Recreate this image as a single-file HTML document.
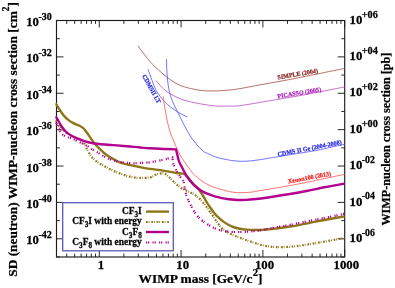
<!DOCTYPE html>
<html><head><meta charset="utf-8"><title>plot</title>
<style>
html,body{margin:0;padding:0;background:#fff;}
body{width:395px;height:288px;overflow:hidden;font-family:"Liberation Serif",serif;}
svg{display:block;will-change:transform;}
text{font-family:"Liberation Serif",serif;font-weight:bold;}
</style></head><body>
<svg width="395" height="288" viewBox="0 0 395 288">
<rect width="395" height="288" fill="#fff"/>
<defs><clipPath id="c"><rect x="55.20" y="20.50" width="289.70" height="236.50"/></clipPath></defs>
<path d="M56.50,257.00 v-3.40 M56.50,20.50 v3.40 M66.72,257.00 v-3.40 M66.72,20.50 v3.40 M74.65,257.00 v-3.40 M74.65,20.50 v3.40 M81.13,257.00 v-3.40 M81.13,20.50 v3.40 M86.60,257.00 v-3.40 M86.60,20.50 v3.40 M91.35,257.00 v-3.40 M91.35,20.50 v3.40 M95.53,257.00 v-3.40 M95.53,20.50 v3.40 M99.28,257.00 v-7.00 M99.28,20.50 v7.00 M123.90,257.00 v-3.40 M123.90,20.50 v3.40 M138.31,257.00 v-3.40 M138.31,20.50 v3.40 M148.53,257.00 v-3.40 M148.53,20.50 v3.40 M156.46,257.00 v-3.40 M156.46,20.50 v3.40 M162.93,257.00 v-3.40 M162.93,20.50 v3.40 M168.41,257.00 v-3.40 M168.41,20.50 v3.40 M173.16,257.00 v-3.40 M173.16,20.50 v3.40 M177.34,257.00 v-3.40 M177.34,20.50 v3.40 M181.08,257.00 v-7.00 M181.08,20.50 v7.00 M205.71,257.00 v-3.40 M205.71,20.50 v3.40 M220.12,257.00 v-3.40 M220.12,20.50 v3.40 M230.34,257.00 v-3.40 M230.34,20.50 v3.40 M238.27,257.00 v-3.40 M238.27,20.50 v3.40 M244.74,257.00 v-3.40 M244.74,20.50 v3.40 M250.22,257.00 v-3.40 M250.22,20.50 v3.40 M254.96,257.00 v-3.40 M254.96,20.50 v3.40 M259.15,257.00 v-3.40 M259.15,20.50 v3.40 M262.89,257.00 v-7.00 M262.89,20.50 v7.00 M287.52,257.00 v-3.40 M287.52,20.50 v3.40 M301.92,257.00 v-3.40 M301.92,20.50 v3.40 M312.15,257.00 v-3.40 M312.15,20.50 v3.40 M320.07,257.00 v-3.40 M320.07,20.50 v3.40 M326.55,257.00 v-3.40 M326.55,20.50 v3.40 M332.03,257.00 v-3.40 M332.03,20.50 v3.40 M336.77,257.00 v-3.40 M336.77,20.50 v3.40 M340.96,257.00 v-3.40 M340.96,20.50 v3.40 M344.70,257.00 v-7.00 M344.70,20.50 v7.00 M56.50,257.00 h3.40 M344.70,257.00 h-3.40 M56.50,238.81 h7.00 M344.70,238.81 h-7.00 M56.50,220.62 h3.40 M344.70,220.62 h-3.40 M56.50,202.42 h7.00 M344.70,202.42 h-7.00 M56.50,184.23 h3.40 M344.70,184.23 h-3.40 M56.50,166.04 h7.00 M344.70,166.04 h-7.00 M56.50,147.85 h3.40 M344.70,147.85 h-3.40 M56.50,129.65 h7.00 M344.70,129.65 h-7.00 M56.50,111.46 h3.40 M344.70,111.46 h-3.40 M56.50,93.27 h7.00 M344.70,93.27 h-7.00 M56.50,75.08 h3.40 M344.70,75.08 h-3.40 M56.50,56.88 h7.00 M344.70,56.88 h-7.00 M56.50,38.69 h3.40 M344.70,38.69 h-3.40 M56.50,20.50 h7.00 M344.70,20.50 h-7.00" stroke="#2a2a2a" stroke-width="1.00" fill="none"/>
<rect x="56.50" y="20.50" width="288.20" height="236.50" fill="none" stroke="#1c1c1c" stroke-width="1.15"/>
<g clip-path="url(#c)" fill="none" stroke-linejoin="round">
<path d="M138.00,46.00 C139.33,47.77 143.55,53.53 146.00,56.60 C148.45,59.67 149.48,61.18 152.70,64.40 C155.92,67.62 161.08,72.57 165.30,75.90 C169.52,79.23 173.78,82.30 178.00,84.40 C182.22,86.50 186.38,87.45 190.60,88.50 C194.82,89.55 199.07,90.30 203.30,90.70 C207.53,91.10 211.78,91.00 216.00,90.90 C220.22,90.80 224.60,90.48 228.60,90.10 C232.60,89.72 234.68,89.48 240.00,88.60 C245.32,87.72 254.13,85.97 260.50,84.80 C266.87,83.63 272.45,82.65 278.20,81.60 C283.95,80.55 288.45,79.78 295.00,78.50 C301.55,77.22 309.22,75.58 317.50,73.90 C325.78,72.22 340.17,69.32 344.70,68.40" stroke="#a04a40" stroke-width="0.78"/>
<path d="M155.70,80.30 C156.42,81.12 158.40,83.50 160.00,85.20 C161.60,86.90 163.18,88.83 165.30,90.50 C167.42,92.17 169.98,93.73 172.70,95.20 C175.42,96.67 178.62,98.20 181.60,99.30 C184.58,100.40 187.65,101.07 190.60,101.80 C193.55,102.53 196.37,103.15 199.30,103.70 C202.23,104.25 205.25,104.72 208.20,105.10 C211.15,105.48 213.60,105.83 217.00,106.00 C220.40,106.17 224.77,106.15 228.60,106.10 C232.43,106.05 234.68,106.33 240.00,105.70 C245.32,105.07 254.13,103.37 260.50,102.30 C266.87,101.23 272.45,100.27 278.20,99.30 C283.95,98.33 288.45,97.67 295.00,96.50 C301.55,95.33 309.22,93.90 317.50,92.30 C325.78,90.70 340.17,87.80 344.70,86.90" stroke="#b848c0" stroke-width="0.78"/>
<path d="M166.50,59.20 C166.55,61.00 166.62,66.53 166.80,70.00 C166.98,73.47 167.23,76.67 167.60,80.00 C167.97,83.33 168.27,86.67 169.00,90.00 C169.73,93.33 170.50,96.20 172.00,100.00 C173.50,103.80 175.00,106.87 178.00,112.80 C181.00,118.73 186.03,129.40 190.00,135.60 C193.97,141.80 198.82,147.02 201.80,150.00 C204.78,152.98 205.73,152.38 207.90,153.50 C210.07,154.62 212.48,155.85 214.80,156.70 C217.12,157.55 219.48,158.05 221.80,158.60 C224.12,159.15 226.50,159.62 228.70,160.00 C230.90,160.38 232.67,160.68 235.00,160.90 C237.33,161.12 239.93,161.32 242.70,161.30 C245.47,161.28 248.63,161.08 251.60,160.80 C254.57,160.52 257.55,160.05 260.50,159.60 C263.45,159.15 266.35,158.58 269.30,158.10 C272.25,157.62 273.92,157.40 278.20,156.70 C282.48,156.00 288.78,154.92 295.00,153.90 C301.22,152.88 309.13,151.80 315.50,150.60 C321.87,149.40 328.33,147.75 333.20,146.70 C338.07,145.65 342.78,144.70 344.70,144.30" stroke="#5555ff" stroke-width="0.82"/>
<path d="M148.10,69.40 C148.75,71.22 150.60,76.70 152.00,80.30 C153.40,83.90 154.50,87.55 156.50,91.00 C158.50,94.45 161.58,98.27 164.00,101.00 C166.42,103.73 168.67,105.55 171.00,107.40 C173.33,109.25 175.28,110.48 178.00,112.10 C180.72,113.72 185.75,116.27 187.30,117.10" stroke="#5555ff" stroke-width="0.82"/>
<path d="M163.30,96.30 C163.42,97.42 163.67,100.67 164.00,103.00 C164.33,105.33 164.72,107.13 165.30,110.30 C165.88,113.47 166.65,118.22 167.50,122.00 C168.35,125.78 169.43,130.00 170.40,133.00 C171.37,136.00 172.23,137.43 173.30,140.00 C174.37,142.57 175.68,145.92 176.80,148.40 C177.92,150.88 178.98,153.05 180.00,154.90 C181.02,156.75 181.67,157.65 182.90,159.50 C184.13,161.35 186.17,164.27 187.40,166.00 C188.63,167.73 189.22,168.50 190.30,169.90 C191.38,171.30 192.13,172.67 193.90,174.40 C195.67,176.13 198.57,178.60 200.90,180.30 C203.23,182.00 205.58,183.40 207.90,184.60 C210.22,185.80 212.48,186.67 214.80,187.50 C217.12,188.33 219.48,188.95 221.80,189.60 C224.12,190.25 226.50,190.92 228.70,191.40 C230.90,191.88 233.12,192.28 235.00,192.50 C236.88,192.72 238.33,192.68 240.00,192.70 C241.67,192.72 243.18,192.68 245.00,192.60 C246.82,192.52 248.75,192.47 250.90,192.20 C253.05,191.93 254.42,191.58 257.90,191.00 C261.38,190.42 267.28,189.47 271.80,188.70 C276.32,187.93 280.68,187.17 285.00,186.40 C289.32,185.63 292.62,185.08 297.70,184.10 C302.78,183.12 309.58,181.73 315.50,180.50 C321.42,179.27 328.33,177.73 333.20,176.70 C338.07,175.67 342.78,174.70 344.70,174.30" stroke="#ff4c4c" stroke-width="0.78"/>
<path d="M55.70,103.20 C56.25,104.10 57.95,106.92 59.00,108.60 C60.05,110.28 60.97,111.87 62.00,113.30 C63.03,114.73 64.05,116.02 65.20,117.20 C66.35,118.38 67.68,119.50 68.90,120.40 C70.12,121.30 71.33,121.95 72.50,122.60 C73.67,123.25 74.73,123.77 75.90,124.30 C77.07,124.83 78.33,125.20 79.50,125.80 C80.67,126.40 81.95,127.15 82.90,127.90 C83.85,128.65 84.47,129.42 85.20,130.30 C85.93,131.18 86.42,131.93 87.30,133.20 C88.18,134.47 89.48,136.43 90.50,137.90 C91.52,139.37 92.00,140.28 93.40,142.00 C94.80,143.72 96.82,146.12 98.90,148.20 C100.98,150.28 103.57,152.72 105.90,154.50 C108.23,156.28 110.58,157.60 112.90,158.90 C115.22,160.20 117.48,161.38 119.80,162.30 C122.12,163.22 123.43,163.60 126.80,164.40 C130.17,165.20 136.13,166.35 140.00,167.10 C143.87,167.85 146.18,168.32 150.00,168.90 C153.82,169.48 158.43,169.92 162.90,170.60 C167.37,171.28 173.42,172.50 176.80,173.00 C180.18,173.50 181.90,173.40 183.20,173.60 C184.50,173.80 183.97,173.72 184.60,174.20 C185.23,174.68 185.45,174.72 187.00,176.50 C188.55,178.28 192.15,182.98 193.90,184.90 C195.65,186.82 196.62,187.15 197.50,188.00 C198.38,188.85 198.22,188.62 199.20,190.00 C200.18,191.38 202.17,194.30 203.40,196.30 C204.63,198.30 205.47,200.13 206.60,202.00 C207.73,203.87 208.93,205.68 210.20,207.50 C211.47,209.32 212.80,211.20 214.20,212.90 C215.60,214.60 217.07,216.25 218.60,217.70 C220.13,219.15 221.77,220.42 223.40,221.60 C225.03,222.78 226.75,223.90 228.40,224.80 C230.05,225.70 231.40,226.35 233.30,227.00 C235.20,227.65 237.55,228.27 239.80,228.70 C242.05,229.13 244.48,229.38 246.80,229.60 C249.12,229.82 250.85,229.97 253.70,230.00 C256.55,230.03 259.87,230.10 263.90,229.80 C267.93,229.50 273.25,228.78 277.90,228.20 C282.55,227.62 286.63,227.15 291.80,226.30 C296.97,225.45 303.72,224.12 308.90,223.10 C314.08,222.08 318.25,221.08 322.90,220.20 C327.55,219.32 333.17,218.43 336.80,217.80 C340.43,217.17 343.38,216.63 344.70,216.40" stroke="#8e7618" stroke-width="2.4"/>
<path d="M55.70,120.50 C56.08,121.22 57.27,123.62 58.00,124.80 C58.73,125.98 59.43,126.85 60.10,127.60 C60.77,128.35 61.35,128.73 62.00,129.30 C62.65,129.87 62.85,130.15 64.00,131.00 C65.15,131.85 67.13,133.37 68.90,134.40 C70.67,135.43 72.82,136.38 74.60,137.20 C76.38,138.02 78.28,138.63 79.60,139.30 C80.92,139.97 81.68,140.42 82.50,141.20 C83.32,141.98 83.85,142.83 84.50,144.00 C85.15,145.17 85.15,145.98 86.40,148.20 C87.65,150.42 89.92,154.85 92.00,157.30 C94.08,159.75 96.58,161.28 98.90,162.90 C101.22,164.52 103.57,165.73 105.90,167.00 C108.23,168.27 110.35,169.33 112.90,170.50 C115.45,171.67 118.35,172.98 121.20,174.00 C124.05,175.02 127.10,175.95 130.00,176.60 C132.90,177.25 135.27,177.75 138.60,177.90 C141.93,178.05 147.27,177.98 150.00,177.50 C152.73,177.02 153.28,175.67 155.00,175.00 C156.72,174.33 158.75,173.75 160.30,173.50 C161.85,173.25 162.95,173.00 164.30,173.50 C165.65,174.00 167.13,175.42 168.40,176.50 C169.67,177.58 170.63,178.75 171.90,180.00 C173.17,181.25 174.65,182.80 176.00,184.00 C177.35,185.20 178.17,186.05 180.00,187.20 C181.83,188.35 185.17,189.98 187.00,190.90 C188.83,191.82 189.67,192.03 191.00,192.70 C192.33,193.37 193.63,193.95 195.00,194.90 C196.37,195.85 197.90,197.18 199.20,198.40 C200.50,199.62 201.67,200.88 202.80,202.20 C203.93,203.52 204.92,204.85 206.00,206.30 C207.08,207.75 208.22,209.38 209.30,210.90 C210.38,212.42 211.47,213.88 212.50,215.40 C213.53,216.92 214.52,218.55 215.50,220.00 C216.48,221.45 217.37,222.77 218.40,224.10 C219.43,225.43 220.45,226.77 221.70,228.00 C222.95,229.23 224.03,230.33 225.90,231.50 C227.77,232.67 230.58,233.97 232.90,235.00 C235.22,236.03 237.48,236.82 239.80,237.70 C242.12,238.58 244.48,239.48 246.80,240.30 C249.12,241.12 251.50,241.88 253.70,242.60 C255.90,243.32 257.63,243.98 260.00,244.60 C262.37,245.22 265.43,245.90 267.90,246.30 C270.37,246.70 272.48,246.87 274.80,247.00 C277.12,247.13 278.32,247.23 281.80,247.10 C285.28,246.97 288.73,247.08 295.70,246.20 C302.67,245.32 315.47,243.18 323.60,241.80 C331.73,240.42 341.02,238.55 344.50,237.90" stroke="#8e7618" stroke-width="2.2" stroke-dasharray="1.7 1.0 0.8 1.8"/>
<path d="M55.70,116.30 C56.25,117.25 57.95,120.22 59.00,122.00 C60.05,123.78 60.97,125.50 62.00,127.00 C63.03,128.50 64.05,129.82 65.20,131.00 C66.35,132.18 67.68,133.22 68.90,134.10 C70.12,134.98 71.33,135.67 72.50,136.30 C73.67,136.93 74.58,137.35 75.90,137.90 C77.22,138.45 78.88,139.03 80.40,139.60 C81.92,140.17 83.32,140.77 85.00,141.30 C86.68,141.83 88.18,142.35 90.50,142.80 C92.82,143.25 95.17,143.62 98.90,144.00 C102.63,144.38 108.25,144.73 112.90,145.10 C117.55,145.47 122.28,145.80 126.80,146.20 C131.32,146.60 136.13,147.15 140.00,147.50 C143.87,147.85 145.78,148.05 150.00,148.30 C154.22,148.55 160.97,148.82 165.30,149.00 C169.63,149.18 174.22,149.33 176.00,149.40 L176.00,149.40 C176.25,150.42 176.98,153.47 177.50,155.50 C178.02,157.53 178.27,159.47 179.10,161.60 C179.93,163.73 181.18,165.82 182.50,168.30 C183.82,170.78 185.10,173.73 187.00,176.50 C188.90,179.27 191.58,182.58 193.90,184.90 C196.22,187.22 198.57,188.90 200.90,190.40 C203.23,191.90 205.58,192.90 207.90,193.90 C210.22,194.90 212.48,195.70 214.80,196.40 C217.12,197.10 219.48,197.63 221.80,198.10 C224.12,198.57 226.50,198.92 228.70,199.20 C230.90,199.48 233.12,199.67 235.00,199.80 C236.88,199.93 238.17,199.98 240.00,200.00 C241.83,200.02 243.75,200.02 246.00,199.90 C248.25,199.78 249.85,199.70 253.50,199.30 C257.15,198.90 262.65,198.25 267.90,197.50 C273.15,196.75 278.55,195.88 285.00,194.80 C291.45,193.72 300.05,192.25 306.60,191.00 C313.15,189.75 317.95,188.53 324.30,187.30 C330.65,186.07 341.30,184.22 344.70,183.60" stroke="#b4008f" stroke-width="2.4" stroke-linejoin="miter"/>
<path d="M55.70,123.00 C56.17,123.92 57.55,126.78 58.50,128.50 C59.45,130.22 60.48,132.13 61.40,133.30 C62.32,134.47 62.95,134.87 64.00,135.50 C65.05,136.13 66.37,136.60 67.70,137.10 C69.03,137.60 70.32,137.80 72.00,138.50 C73.68,139.20 75.40,140.15 77.80,141.30 C80.20,142.45 84.15,144.13 86.40,145.40 C88.65,146.67 89.45,147.73 91.30,148.90 C93.15,150.07 95.53,151.23 97.50,152.40 C99.47,153.57 101.23,154.85 103.10,155.90 C104.97,156.95 106.73,157.88 108.70,158.70 C110.67,159.52 112.82,160.22 114.90,160.80 C116.98,161.38 118.98,161.85 121.20,162.20 C123.42,162.55 126.12,162.72 128.20,162.90 C130.28,163.08 131.73,163.30 133.70,163.30 C135.67,163.30 137.28,163.07 140.00,162.90 C142.72,162.73 146.18,162.82 150.00,162.30 C153.82,161.78 159.83,160.45 162.90,159.80 C165.97,159.15 166.82,158.80 168.40,158.40 C169.98,158.00 171.73,157.57 172.40,157.40 L172.40,157.40 C172.55,158.45 172.68,161.60 173.30,163.70 C173.92,165.80 174.93,167.80 176.10,170.00 C177.27,172.20 179.07,175.00 180.30,176.90 C181.53,178.80 182.73,179.38 183.50,181.40 C184.27,183.42 184.43,186.68 184.90,189.00 C185.37,191.32 185.62,193.20 186.30,195.30 C186.98,197.40 188.08,199.62 189.00,201.60 C189.92,203.58 190.75,205.23 191.80,207.20 C192.85,209.17 194.02,211.55 195.30,213.40 C196.58,215.25 198.22,217.00 199.50,218.30 C200.78,219.60 200.75,219.67 203.00,221.20 C205.25,222.73 209.63,225.90 213.00,227.50 C216.37,229.10 219.40,230.05 223.20,230.80 C227.00,231.55 231.33,231.88 235.80,232.00 C240.27,232.12 245.32,231.87 250.00,231.50 C254.68,231.13 259.25,230.55 263.90,229.80 C268.55,229.05 273.25,227.88 277.90,227.00 C282.55,226.12 286.63,225.50 291.80,224.50 C296.97,223.50 303.72,222.05 308.90,221.00 C314.08,219.95 318.25,219.13 322.90,218.20 C327.55,217.27 333.17,216.13 336.80,215.40 C340.43,214.67 343.38,214.07 344.70,213.80" stroke="#b4008f" stroke-width="2.2" stroke-linejoin="miter" stroke-dasharray="1.2 0.9 1.2 3.2"/>
</g>
<rect x="62.7" y="202.7" width="110.6" height="48.1" fill="#fff" stroke="#5a5ab8" stroke-width="1.3"/>
<text transform="translate(141.80,214.00) scale(1,1.0370)" font-size="9.45" text-anchor="end" stroke="#000" stroke-width="0.25">CF<tspan font-size="7.18" dy="2.90">3</tspan><tspan font-size="9.45" dy="-2.90">I</tspan></text>
<text transform="translate(141.80,224.40) scale(1,1.0370)" font-size="9.45" text-anchor="end" stroke="#000" stroke-width="0.25">CF<tspan font-size="7.18" dy="2.90">3</tspan><tspan font-size="9.45" dy="-2.90">I with energy</tspan></text>
<text transform="translate(141.80,234.60) scale(1,1.0370)" font-size="9.45" text-anchor="end" stroke="#000" stroke-width="0.25">C<tspan font-size="7.18" dy="2.90">3</tspan><tspan font-size="9.45" dy="-2.90">F</tspan><tspan font-size="7.18" dy="2.90">8</tspan></text>
<text transform="translate(141.80,245.00) scale(1,1.0370)" font-size="9.45" text-anchor="end" stroke="#000" stroke-width="0.25">C<tspan font-size="7.18" dy="2.90">3</tspan><tspan font-size="9.45" dy="-2.90">F</tspan><tspan font-size="7.18" dy="2.90">8</tspan><tspan font-size="9.45" dy="-2.90"> with energy</tspan></text>
<path d="M146,211.6 H169" stroke="#8e7618" stroke-width="2.4" fill="none"/>
<path d="M146,222 H169" stroke="#8e7618" stroke-width="2.0" stroke-dasharray="1.7 1.0 0.8 1.8" fill="none"/>
<path d="M146,232 H169" stroke="#b4008f" stroke-width="2.4" fill="none"/>
<path d="M146,242.4 H169" stroke="#b4008f" stroke-width="2.0" stroke-dasharray="1.2 0.9 1.2 3.2" fill="none"/>
<text transform="translate(26.20,244.41) scale(1,1.0156)" font-size="12.80" text-anchor="start" stroke="#000" stroke-width="0.25">10<tspan font-size="10.04" dy="-6.00" dx="-0.60">-42</tspan></text>
<text transform="translate(349.60,241.91) scale(1,1.0156)" font-size="12.80" text-anchor="start" stroke="#000" stroke-width="0.25">10<tspan font-size="9.83" dy="-6.00" dx="-0.60">-06</tspan></text>
<text transform="translate(26.20,208.02) scale(1,1.0156)" font-size="12.80" text-anchor="start" stroke="#000" stroke-width="0.25">10<tspan font-size="10.04" dy="-6.00" dx="-0.60">-40</tspan></text>
<text transform="translate(349.60,205.52) scale(1,1.0156)" font-size="12.80" text-anchor="start" stroke="#000" stroke-width="0.25">10<tspan font-size="9.83" dy="-6.00" dx="-0.60">-04</tspan></text>
<text transform="translate(26.20,171.64) scale(1,1.0156)" font-size="12.80" text-anchor="start" stroke="#000" stroke-width="0.25">10<tspan font-size="10.04" dy="-6.00" dx="-0.60">-38</tspan></text>
<text transform="translate(349.60,169.14) scale(1,1.0156)" font-size="12.80" text-anchor="start" stroke="#000" stroke-width="0.25">10<tspan font-size="9.83" dy="-6.00" dx="-0.60">-02</tspan></text>
<text transform="translate(26.20,135.25) scale(1,1.0156)" font-size="12.80" text-anchor="start" stroke="#000" stroke-width="0.25">10<tspan font-size="10.04" dy="-6.00" dx="-0.60">-36</tspan></text>
<text transform="translate(349.60,132.75) scale(1,1.0156)" font-size="12.80" text-anchor="start" stroke="#000" stroke-width="0.25">10<tspan font-size="10.24" dy="-6.00" dx="-0.60">+00</tspan></text>
<text transform="translate(26.20,98.87) scale(1,1.0156)" font-size="12.80" text-anchor="start" stroke="#000" stroke-width="0.25">10<tspan font-size="10.04" dy="-6.00" dx="-0.60">-34</tspan></text>
<text transform="translate(349.60,96.37) scale(1,1.0156)" font-size="12.80" text-anchor="start" stroke="#000" stroke-width="0.25">10<tspan font-size="10.24" dy="-6.00" dx="-0.60">+02</tspan></text>
<text transform="translate(26.20,62.48) scale(1,1.0156)" font-size="12.80" text-anchor="start" stroke="#000" stroke-width="0.25">10<tspan font-size="10.04" dy="-6.00" dx="-0.60">-32</tspan></text>
<text transform="translate(349.60,59.98) scale(1,1.0156)" font-size="12.80" text-anchor="start" stroke="#000" stroke-width="0.25">10<tspan font-size="10.24" dy="-6.00" dx="-0.60">+04</tspan></text>
<text transform="translate(26.20,26.10) scale(1,1.0156)" font-size="12.80" text-anchor="start" stroke="#000" stroke-width="0.25">10<tspan font-size="10.04" dy="-6.00" dx="-0.60">-30</tspan></text>
<text transform="translate(349.60,23.60) scale(1,1.0156)" font-size="12.80" text-anchor="start" stroke="#000" stroke-width="0.25">10<tspan font-size="10.24" dy="-6.00" dx="-0.60">+06</tspan></text>
<text transform="translate(100.88,269.20) scale(1,1.0156)" font-size="12.80" text-anchor="middle" stroke="#000" stroke-width="0.25">1</text>
<text transform="translate(182.68,269.20) scale(1,1.0156)" font-size="12.80" text-anchor="middle" stroke="#000" stroke-width="0.25">10</text>
<text transform="translate(264.49,269.20) scale(1,1.0156)" font-size="12.80" text-anchor="middle" stroke="#000" stroke-width="0.25">100</text>
<text transform="translate(346.30,269.20) scale(1,1.0156)" font-size="12.80" text-anchor="middle" stroke="#000" stroke-width="0.25">1000</text>
<text transform="translate(200.50,282.60) scale(1,0.9851)" font-size="13.40" text-anchor="middle" stroke="#000" stroke-width="0.25">WIMP mass [GeV/c<tspan font-size="10.66" dy="-6.50" dx="0.30">2</tspan><tspan font-size="13.33" dy="6.50">]</tspan></text>
<text transform="translate(16.60,139.40) rotate(-90.00) scale(1,1.0090)" font-size="13.38" text-anchor="middle" stroke="#000" stroke-width="0.25">SD (neutron) WIMP-nucleon cross section [cm<tspan font-size="9.37" dy="-7.40" dx="0.00">2</tspan><tspan font-size="13.38" dy="7.40">]</tspan></text>
<text transform="translate(390.20,139.10) rotate(-90.00) scale(1,1.0764)" font-size="12.17" text-anchor="middle" stroke="#000" stroke-width="0.25">WIMP-nucleon cross section [pb]</text>
<text transform="translate(298.10,76.10) rotate(-9.50) scale(1,1.0328)" font-size="6.10" text-anchor="middle" fill="#8a2a2a" stroke="#8a2a2a" stroke-width="0.22">SIMPLE (2004)</text>
<text transform="translate(299.60,94.90) rotate(-9.20) scale(1,1.0328)" font-size="6.10" text-anchor="middle" fill="#b020b8" stroke="#b020b8" stroke-width="0.22">PICASSO (2005)</text>
<text transform="translate(310.00,150.30) rotate(-11.00) scale(1,1.0328)" font-size="6.10" text-anchor="middle" fill="#2828e0" stroke="#2828e0" stroke-width="0.22">CDMS II Ge (2004-2008)</text>
<text transform="translate(309.80,179.50) rotate(-10.30) scale(1,1.0328)" font-size="6.10" text-anchor="middle" fill="#f02020" stroke="#f02020" stroke-width="0.22">Xenon100 (2013)</text>
<text transform="translate(149.80,89.90) rotate(61.00) scale(1,1.0328)" font-size="6.10" text-anchor="middle" fill="#2828e0" stroke="#2828e0" stroke-width="0.22">CDMSII LT</text>
</svg>
</body></html>
